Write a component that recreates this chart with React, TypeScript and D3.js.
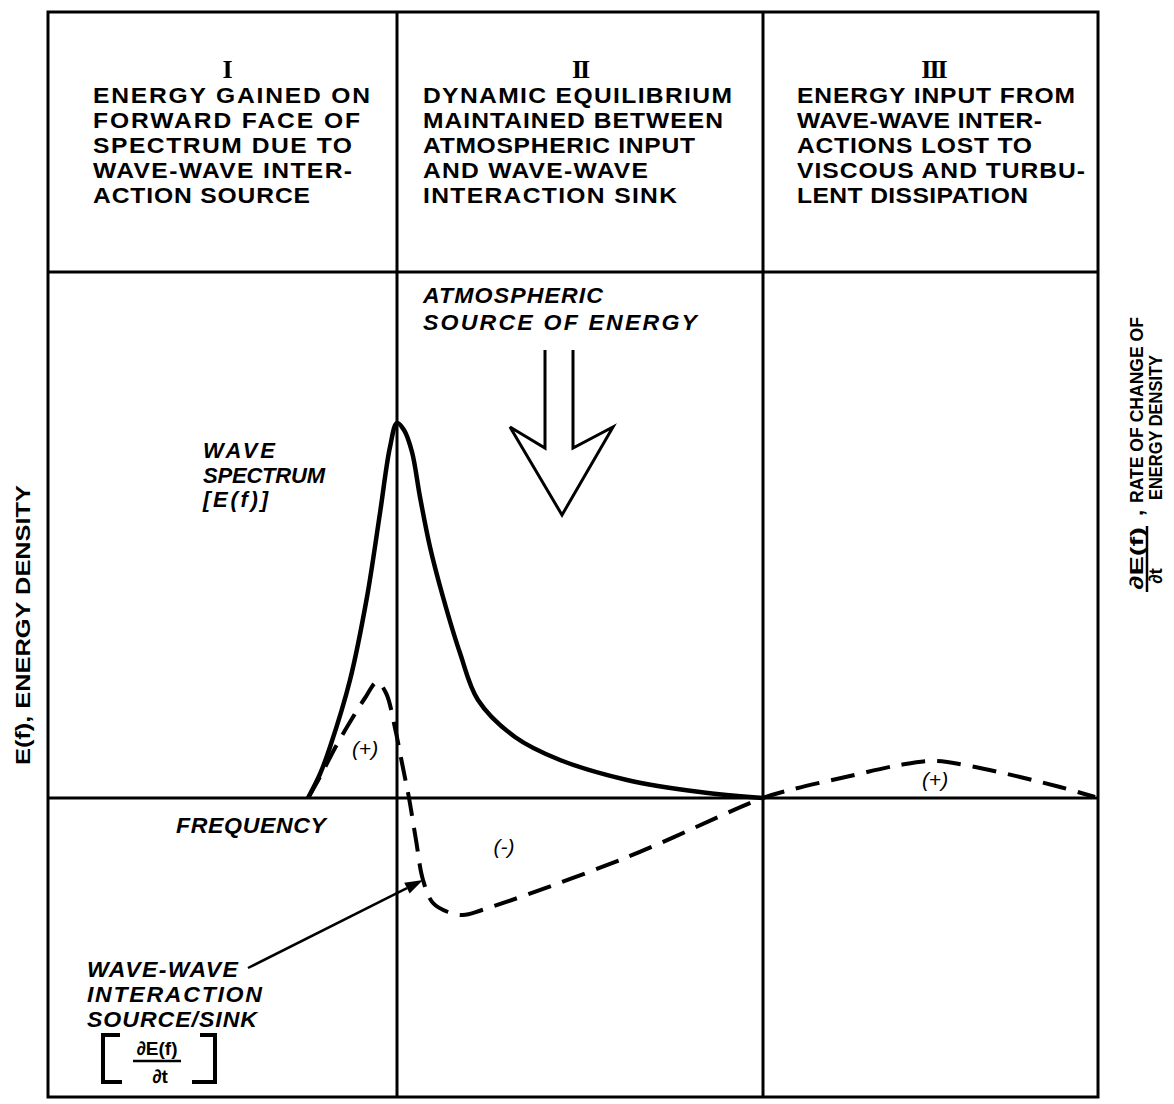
import React from 'react';
import * as d3 from 'd3';

const W = 1174;
const H = 1104;

// Data domains (arbitrary frequency / energy units)
const freqDomain = [0, 10.5];
const energyDomain = [-2.99, 7.86];
const regionBounds = [3.49, 7.15];

// Wave spectrum E(f) (solid)
const spectrumF = [2.6, 2.72, 2.82, 3.02, 3.19, 3.32, 3.42, 3.49, 3.56, 3.64, 3.72, 3.82, 3.95, 4.12, 4.3, 4.67, 5.12, 5.79, 6.52, 7.15];
const spectrumE = [0, 0.24, 0.51, 1.18, 2.01, 2.85, 3.51, 3.75, 3.68, 3.46, 3.01, 2.51, 2.01, 1.45, 0.98, 0.61, 0.38, 0.18, 0.06, 0];

// Wave-wave interaction source/sink dE/dt (dashed)
const sourceF = [2.6, 2.72, 2.87, 3.02, 3.17, 3.29, 3.38, 3.47, 3.54, 3.61, 3.68, 3.75, 3.85, 4.0, 4.15, 4.34, 5.77, 7.15, 7.42, 8.02, 8.52, 8.87, 9.22, 9.72, 10.12, 10.47];
const sourceE = [0, 0.21, 0.5, 0.76, 1.0, 1.16, 1.05, 0.7, 0.35, 0, -0.42, -0.82, -1.05, -1.14, -1.17, -1.12, -0.6, 0, 0.08, 0.22, 0.33, 0.37, 0.32, 0.21, 0.11, 0.01];

const headerNumerals = ['I', 'II', 'III'];
const headerLines = [
  ['ENERGY GAINED ON', 'FORWARD FACE OF', 'SPECTRUM DUE TO', 'WAVE-WAVE INTER-', 'ACTION SOURCE'],
  ['DYNAMIC EQUILIBRIUM', 'MAINTAINED BETWEEN', 'ATMOSPHERIC INPUT', 'AND WAVE-WAVE', 'INTERACTION SINK'],
  ['ENERGY INPUT FROM', 'WAVE-WAVE INTER-', 'ACTIONS LOST TO', 'VISCOUS AND TURBU-', 'LENT DISSIPATION'],
];
const headerWidths = [
  [277, 267, 259, 259, 217],
  [309, 300, 272, 225, 254],
  [278, 245, 235, 288, 231],
];
const headerX = [93, 423, 797];

const SANS = '"Liberation Sans", Arial, Helvetica, sans-serif';
const SERIF = '"Liberation Serif", "DejaVu Serif", serif';
const FIT = 'spacingAndGlyphs';

function WideText({ x, y, w, sx = 1.12, children, ...rest }: any) {
  return (
    <text
      transform={`translate(${x},${y}) scale(${sx},1)`}
      textLength={w / sx}
      lengthAdjust="spacing"
      {...rest}
    >
      {children}
    </text>
  );
}

export default function App() {
  const x = d3.scaleLinear().domain(freqDomain).range([48, 1098]);
  const y = d3.scaleLinear().domain(energyDomain).range([1097, 12]);

  const left = x(freqDomain[0]);
  const right = x(freqDomain[1]);
  const top = y(energyDomain[1]);
  const bottom = y(energyDomain[0]);
  const base = y(0);
  const headerBottom = 272;
  const b1 = x(regionBounds[0]);
  const b2 = x(regionBounds[1]);

  const spectrumPath = d3
    .line<number>()
    .x((d, i) => x(spectrumF[i]))
    .y((d) => y(d))
    .curve(d3.curveCatmullRom.alpha(0.5))(spectrumE) as string;

  const sourcePath = d3
    .line<number>()
    .x((d, i) => x(sourceF[i]))
    .y((d) => y(d))
    .curve(d3.curveCatmullRom.alpha(0.5))(sourceE) as string;

  // annotation leader: tip on the dashed curve
  const tipX = x(sourceF[11]);
  const tipY = y(sourceE[11]);
  const startX = 248;
  const startY = 968;
  const ang = Math.atan2(tipY - startY, tipX - startX);
  const ahL = 18;
  const ahW = 6;
  const bx = tipX - ahL * Math.cos(ang);
  const by = tipY - ahL * Math.sin(ang);
  const px = -Math.sin(ang) * ahW;
  const py = Math.cos(ang) * ahW;

  const regionCenters = [(left + b1) / 2 + 4, (b1 + b2) / 2, (b2 + right) / 2 + 3];

  return (
    <svg
      width={W}
      height={H}
      style={{ position: 'absolute', left: 0, top: 0, background: '#fff' }}
      fontFamily={SANS}
    >
      <rect x={0} y={0} width={W} height={H} fill="#fff" />
      {/* frame and grid */}
      <rect x={left} y={top} width={right - left} height={bottom - top} fill="none" stroke="#000" strokeWidth={3} />
      <line x1={left} x2={right} y1={headerBottom} y2={headerBottom} stroke="#000" strokeWidth={3} />
      <line x1={b1} x2={b1} y1={top} y2={bottom} stroke="#000" strokeWidth={3} />
      <line x1={b2} x2={b2} y1={top} y2={bottom} stroke="#000" strokeWidth={3} />
      <line x1={left} x2={right} y1={base} y2={base} stroke="#000" strokeWidth={3} />

      {/* headers */}
      {headerNumerals.map((n, i) => (
        <text
          key={'n' + i}
          x={regionCenters[i]}
          y={78}
          textAnchor="middle"
          fontFamily={SERIF}
          fontWeight="bold"
          fontSize={26}
          letterSpacing={-2}
        >
          {n}
        </text>
      ))}
      {headerLines.map((lines, i) =>
        lines.map((t, j) => (
          <WideText
            key={'h' + i + '-' + j}
            x={headerX[i]}
            y={103 + j * 25}
            w={headerWidths[i][j]}
            fontWeight="bold"
            fontSize={22}
          >
            {t}
          </WideText>
        ))
      )}

      {/* curves */}
      <path d={spectrumPath} fill="none" stroke="#000" strokeWidth={4.5} strokeLinejoin="round" />
      <path d={sourcePath} fill="none" stroke="#000" strokeWidth={4} strokeDasharray="24 12" />

      {/* atmospheric arrow */}
      <path
        d="M545,350 L545,448 L510,427 L562,515 L613,427 L573,448 L573,350"
        fill="none"
        stroke="#000"
        strokeWidth={3}
        strokeLinejoin="miter"
      />
      <g fontWeight="bold" fontStyle="italic" fontSize={22}>
        <WideText x={423} y={303} w={180} sx={1.05}>ATMOSPHERIC</WideText>
        <WideText x={423} y={330} w={274} sx={1.05}>SOURCE OF ENERGY</WideText>
        <WideText x={203} y={458} w={72} sx={1.0}>WAVE</WideText>
        <WideText x={203} y={483} w={122} sx={1.0}>SPECTRUM</WideText>
        <WideText x={203} y={507} w={65} sx={1.0}>[E(f)]</WideText>
        <WideText x={176} y={833} w={150} sx={1.05}>FREQUENCY</WideText>
        <WideText x={87} y={977} w={151} sx={1.05}>WAVE-WAVE</WideText>
        <WideText x={87} y={1002} w={175} sx={1.05}>INTERACTION</WideText>
        <WideText x={87} y={1027} w={170} sx={1.05}>SOURCE/SINK</WideText>
      </g>
      <g fontStyle="italic" fontSize={21}>
        <text x={365} y={756} textAnchor="middle">(+)</text>
        <text x={504} y={854} textAnchor="middle">(-)</text>
        <text x={935} y={787} textAnchor="middle">(+)</text>
      </g>

      {/* leader arrow */}
      <line x1={startX} y1={startY} x2={bx} y2={by} stroke="#000" strokeWidth={2.5} />
      <path d={`M${tipX},${tipY} L${bx + px},${by + py} L${bx - px},${by - py} Z`} fill="#000" />

      {/* bracketed derivative */}
      <path d="M120,1035 L103,1035 L103,1082 L122,1082" fill="none" stroke="#000" strokeWidth={4} />
      <path d="M200,1035 L215,1035 L215,1082 L192,1082" fill="none" stroke="#000" strokeWidth={4} />
      <text x={157} y={1055} textAnchor="middle" fontWeight="bold" fontSize={19}>∂E(f)</text>
      <line x1={133} x2={181} y1={1061} y2={1061} stroke="#000" strokeWidth={2.5} />
      <text x={160} y={1083} textAnchor="middle" fontWeight="bold" fontSize={19}>∂t</text>

      {/* left axis label */}
      <text
        transform="translate(30,625) rotate(-90)"
        textAnchor="middle"
        fontWeight="bold"
        fontSize={21}
        textLength={280}
        lengthAdjust={FIT}
      >
        E(f), ENERGY DENSITY
      </text>

      {/* right axis label */}
      <g fontWeight="bold" fontSize={19}>
        <text transform="translate(1143,590) rotate(-90)" textLength={63} lengthAdjust={FIT}>∂E(f)</text>
        <line x1={1147} x2={1147} y1={592} y2={526} stroke="#000" strokeWidth={2.5} />
        <text transform="translate(1162,576) rotate(-90)" textAnchor="middle">∂t</text>
        <text transform="translate(1143,516) rotate(-90)" fontSize={22}>,</text>
        <text transform="translate(1143,503) rotate(-90)" textLength={186} lengthAdjust={FIT}>RATE OF CHANGE OF</text>
        <text transform="translate(1162,500) rotate(-90)" textLength={145} lengthAdjust={FIT}>ENERGY DENSITY</text>
      </g>
    </svg>
  );
}
